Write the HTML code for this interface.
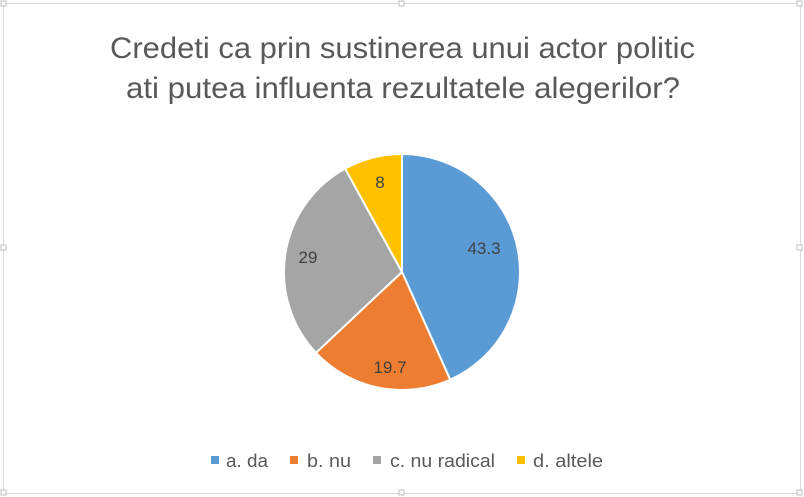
<!DOCTYPE html>
<html><head><style>
body{margin:0;background:#fff;}
</style></head><body>
<svg width="804" height="497" viewBox="0 0 804 497" xmlns="http://www.w3.org/2000/svg" style="display:block">
<rect x="0" y="0" width="804" height="497" fill="#fff"/>
<rect x="3.5" y="3.5" width="797" height="490" fill="#fff" stroke="#d9d9d9" stroke-width="1"/>
<g fill="#fff" stroke="#bfbfbf" stroke-width="1">
<rect x="1" y="1" width="5" height="5"/><rect x="399" y="1" width="5" height="5"/><rect x="797" y="1" width="5" height="5"/>
<rect x="1" y="245" width="5" height="5"/><rect x="797" y="245" width="5" height="5"/>
<rect x="1" y="490" width="5" height="5"/><rect x="399" y="490" width="5" height="5"/><rect x="797" y="490" width="5" height="5"/>
</g>
<g font-family="'Liberation Sans',sans-serif" fill="#595959" font-size="30">
<text x="110" y="58" textLength="585" lengthAdjust="spacingAndGlyphs">Credeti ca prin sustinerea unui actor politic</text>
<text x="126" y="98" textLength="554" lengthAdjust="spacingAndGlyphs">ati putea influenta rezultatele alegerilor?</text>
</g>
<g stroke="#fff" stroke-width="2" stroke-linejoin="round">
<path d="M402,272 L402,154 A118,118 0 0 1 450.2,379.7 Z" fill="#5b9bd5"/>
<path d="M402,272 L450.2,379.7 A118,118 0 0 1 316.0,352.8 Z" fill="#ed7d31"/>
<path d="M402,272 L316.0,352.8 A118,118 0 0 1 345.1,168.6 Z" fill="#a5a5a5"/>
<path d="M402,272 L345.1,168.6 A118,118 0 0 1 402,154 Z" fill="#ffc000"/>
</g>
<g font-family="'Liberation Sans',sans-serif" fill="#404040" font-size="17" text-anchor="middle">
<text x="484" y="254">43.3</text>
<text x="390" y="373">19.7</text>
<text x="308" y="263">29</text>
<text x="380" y="188">8</text>
</g>
<g font-family="'Liberation Sans',sans-serif" fill="#595959" font-size="18">
<rect x="211" y="456" width="8" height="8" fill="#5b9bd5"/><text x="226" y="467" textLength="42" lengthAdjust="spacingAndGlyphs">a. da</text>
<rect x="290" y="456" width="8" height="8" fill="#ed7d31"/><text x="307" y="467" textLength="44" lengthAdjust="spacingAndGlyphs">b. nu</text>
<rect x="373" y="456" width="8" height="8" fill="#a5a5a5"/><text x="390" y="467" textLength="105" lengthAdjust="spacingAndGlyphs">c. nu radical</text>
<rect x="517" y="456" width="8" height="8" fill="#ffc000"/><text x="533" y="467" textLength="70" lengthAdjust="spacingAndGlyphs">d. altele</text>
</g>
</svg>
</body></html>
